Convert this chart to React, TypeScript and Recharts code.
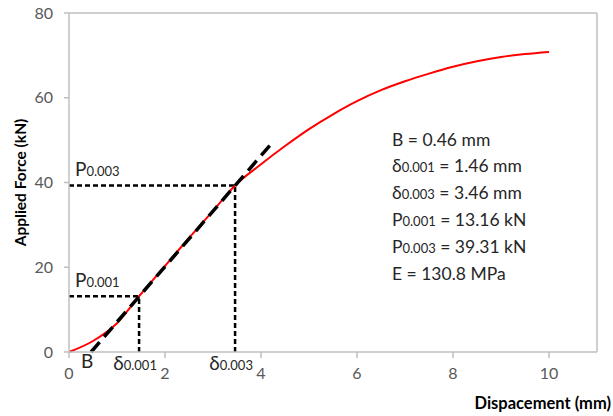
import React from "react";
import {
  LineChart,
  Line,
  XAxis,
  YAxis,
  ReferenceLine,
  ReferenceDot,
} from "recharts";

// measured load–displacement curve
const dispX = [0, 0.5, 1, 1.46, 2, 2.5, 3, 3.46, 4, 4.5, 5, 5.5, 6, 6.5, 7, 7.5, 8, 8.5, 9, 9.5, 10];
const forceY = [0, 2.6, 6.8, 13.16, 20.3, 26.9, 33.3, 39.31, 44.3, 48.6, 52.6, 56.1, 59.2, 61.8, 63.9, 65.7, 67.3, 68.6, 69.6, 70.3, 70.8];

// secant (modulus) line from B
const secantX = [0.46, 4.25];
const secantY = [0, 49.6];

// marked points
const markSub = ["0.001", "0.003"];
const markX = [1.46, 3.46];
const markP = [13.16, 39.31];
const offsetB = 0.46;

const xTicks = [0, 2, 4, 6, 8, 10];
const yTicks = [0, 20, 40, 60, 80];

const infoLines = [
  { main: "B", sub: "", rest: " = 0.46 mm" },
  { main: "δ", sub: "0.001", rest: " = 1.46 mm" },
  { main: "δ", sub: "0.003", rest: " = 3.46 mm" },
  { main: "P", sub: "0.001", rest: " = 13.16 kN" },
  { main: "P", sub: "0.003", rest: " = 39.31 kN" },
  { main: "E", sub: "", rest: " = 130.8 MPa" },
];

const curveData = dispX.map((x, i) => ({ x, y: forceY[i] }));
const secantData = secantX.map((x, i) => ({ x, y: secantY[i] }));

const FONT = "Lato, 'Open Sans', sans-serif";
const GRID = "#bfbfbf";

function SubLabel(props: any) {
  const { viewBox, main, sub, dx = 0, dy = 0, anchor = "start" } = props;
  if (!viewBox) return null;
  const cx = viewBox.x + (viewBox.width || 0) / 2;
  const cy = viewBox.y + (viewBox.height || 0) / 2;
  return (
    <text
      x={cx + dx}
      y={cy + dy}
      textAnchor={anchor}
      fontFamily={FONT}
      fontSize={19}
      fill="#262626"
    >
      {main}
      {sub ? <tspan fontSize={13}>{sub}</tspan> : null}
    </text>
  );
}

function YTitle(props: any) {
  const { viewBox } = props;
  const cy = viewBox.y + viewBox.height / 2;
  return (
    <text
      x={20}
      y={cy}
      transform={`rotate(-90 20 ${cy})`}
      textAnchor="middle"
      dominantBaseline="central"
      fontFamily={FONT}
      fontWeight="bold"
      fontSize={15.5}
      fill="#000"
    >
      Applied Force (kN)
    </text>
  );
}

function XTitle() {
  return (
    <text
      x={611}
      y={409}
      textAnchor="end"
      fontFamily={FONT}
      fontWeight="bold"
      fontSize={16.5}
      fill="#000"
    >
      Dispacement (mm)
    </text>
  );
}

export default function App() {
  return (
    <div style={{ position: "absolute", left: 0, top: 0, width: 613, height: 416, background: "#fff" }}>
      <LineChart
        width={613}
        height={416}
        margin={{ top: 13, right: 16, bottom: 0, left: 0 }}
      >
        <XAxis
          type="number"
          dataKey="x"
          domain={[0, 11]}
          ticks={xTicks}
          allowDuplicatedCategory={false}
          height={64}
          stroke={GRID}
          strokeWidth={1.5}
          tickSize={6}
          tickMargin={10}
          tick={{ fill: "#595959", fontSize: 16, fontFamily: FONT }}
          label={<XTitle />}
        />
        <YAxis
          type="number"
          domain={[0, 80]}
          ticks={yTicks}
          width={69}
          stroke={GRID}
          strokeWidth={1.5}
          tickSize={5}
          tickMargin={11}
          tick={{ fill: "#595959", fontSize: 16, fontFamily: FONT }}
          label={<YTitle />}
        />

        <ReferenceLine y={80} stroke={GRID} strokeWidth={1.5} />
        <ReferenceLine x={11} stroke={GRID} strokeWidth={1.5} />

        {markX.map((mx, i) => (
          <ReferenceLine
            key={"h" + i}
            segment={[{ x: 0, y: markP[i] }, { x: mx, y: markP[i] }]}
            stroke="#000"
            strokeWidth={2.5}
            strokeDasharray="5 3"
          />
        ))}
        {markX.map((mx, i) => (
          <ReferenceLine
            key={"v" + i}
            segment={[{ x: mx, y: 0 }, { x: mx, y: markP[i] }]}
            stroke="#000"
            strokeWidth={2.5}
            strokeDasharray="5 3"
          />
        ))}

        <Line
          data={curveData}
          dataKey="y"
          type="monotone"
          stroke="#ff0000"
          strokeWidth={2}
          dot={false}
          isAnimationActive={false}
        />
        <Line
          data={secantData}
          dataKey="y"
          type="linear"
          stroke="#000"
          strokeWidth={3.5}
          strokeDasharray="13 7"
          dot={false}
          isAnimationActive={false}
        />

        {markX.map((mx, i) => (
          <ReferenceDot
            key={"pl" + i}
            x={0}
            y={markP[i]}
            r={1}
            fill="none"
            stroke="none"
            label={<SubLabel main="P" sub={markSub[i]} dx={6} dy={-9} />}
          />
        ))}
        {markX.map((mx, i) => (
          <ReferenceDot
            key={"dl" + i}
            x={mx}
            y={0}
            r={1}
            fill="none"
            stroke="none"
            label={<SubLabel main="δ" sub={markSub[i]} dx={-4} dy={18} anchor="middle" />}
          />
        ))}
        <ReferenceDot
          x={offsetB}
          y={0}
          r={1}
          fill="none"
          stroke="none"
          label={<SubLabel main="B" sub="" dx={-4} dy={16} anchor="middle" />}
        />
      </LineChart>

      <div
        style={{
          position: "absolute",
          left: 392,
          top: 127,
          fontFamily: FONT,
          fontSize: 17.5,
          lineHeight: "26px",
          color: "#262626",
          whiteSpace: "nowrap",
        }}
      >
        {infoLines.map((l, i) => (
          <div key={i}>
            {l.main}
            {l.sub ? <span style={{ fontSize: 13 }}>{l.sub}</span> : null}
            {l.rest}
          </div>
        ))}
      </div>
    </div>
  );
}
